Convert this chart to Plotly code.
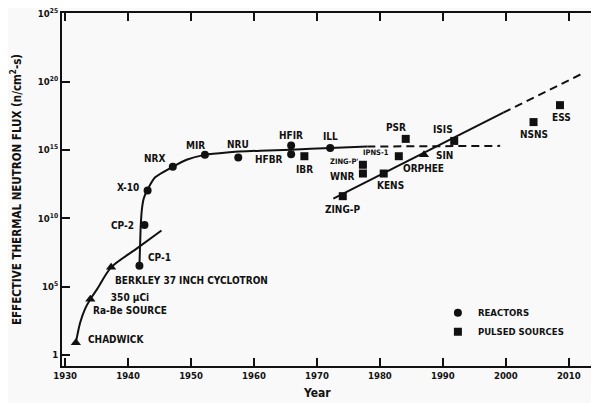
import math
import plotly.graph_objects as go

# ---------------- data ----------------
reactor_names = ["CP-1", "CP-2", "X-10", "NRX", "MIR", "NRU", "HFIR", "HFBR", "ILL"]
reactor_years = [1941.8, 1942.6, 1943.1, 1947.1, 1952.2, 1957.5, 1965.9, 1965.9, 1972.1]
reactor_flux = [3.4e6, 3.2e9, 1.1e12, 5.9e13, 4.4e14, 2.8e14, 2.1e15, 4.9e14, 1.4e15]

pulsed_names = ["IBR", "ZING-P'", "WNR", "IPNS-1", "PSR", "ZING-P", "KENS", "ISIS", "NSNS", "ESS"]
pulsed_years = [1968.0, 1977.3, 1977.3, 1983.0, 1984.1, 1974.1, 1980.6, 1991.8, 2004.4, 2008.6]
pulsed_flux = [3.5e14, 8.3e13, 1.9e13, 3.5e14, 6.5e15, 4.2e11, 1.9e13, 4.6e15, 1.1e17, 1.9e18]

other_names = ["CHADWICK", "350 \u03bcCi<br>Ra-Be SOURCE", "BERKLEY 37 INCH CYCLOTRON", "SIN"]
other_years = [1931.7, 1934.0, 1937.3, 1987.0]
other_flux = [8.0, 1.2e4, 2.6e6, 4.4e14]

# trend curves
reactor_curve_years = [1941.8, 1941.9, 1942.0, 1942.2, 1942.5, 1943.1, 1944.3, 1947.1, 1949.4,
                       1952.2, 1955.7, 1961.0, 1965.9, 1972.1, 1978.0]
reactor_curve_flux = [3.4e6, 1.0e8, 2.5e9, 5.0e10, 3.0e11, 1.3e12, 1.0e13, 5.9e13, 2.0e14,
                      4.4e14, 6.6e14, 8.9e14, 1.05e15, 1.4e15, 1.8e15]
reactor_proj_years = [1978.0, 1999.1]
reactor_proj_flux = [1.8e15, 2.0e15]

accel_curve_years = [1931.7, 1932.4, 1933.2, 1934.0, 1935.1, 1937.3, 1941.3, 1945.3]
accel_curve_flux = [8.0, 2.5e2, 2.6e3, 1.2e4, 6.9e4, 2.6e6, 5.8e7, 1.3e9]

pulsed_line_years = [1972.6, 1999.6]
pulsed_line_flux = [2.8e11, 5.4e17]
pulsed_proj_years = [1999.6, 2012.3]
pulsed_proj_flux = [5.4e17, 4.2e20]

x_ticks = [1930, 1940, 1950, 1960, 1970, 1980, 1990, 2000, 2010]
y_tickvals = [1, 1e5, 1e10, 1e15, 1e20, 1e25]
y_ticktext = ["1", "10<sup>5</sup>", "10<sup>10</sup>", "10<sup>15</sup>", "10<sup>20</sup>", "10<sup>25</sup>"]

# ---------------- styling ----------------
FONT = "DejaVu Sans Condensed, Liberation Sans Narrow, Arial Narrow, sans-serif"
INK = "#111111"

# label placement: (xanchor, xshift px, yshift px, font size)
label_style = {
    "CHADWICK": ("left", 10, 3, 10),
    "350 \u03bcCi<br>Ra-Be SOURCE": ("center", 40, -5, 10),
    "BERKLEY 37 INCH CYCLOTRON": ("left", 2, -13, 10),
    "CP-1": ("left", 7, 8, 10),
    "CP-2": ("right", -8, 0, 10),
    "X-10": ("right", -7, 3, 10),
    "NRX": ("right", -6, 8, 10),
    "MIR": ("center", -9, 9, 10),
    "NRU": ("center", 0, 13, 10),
    "HFIR": ("center", 0, 10, 10),
    "HFBR": ("right", -6, -5, 10),
    "IBR": ("center", 0, -13, 10),
    "ILL": ("center", 0, 11, 10),
    "ZING-P'": ("right", -3, 3, 7.5),
    "WNR": ("right", -7, -3, 10),
    "IPNS-1": ("right", -8, 4, 7.5),
    "PSR": ("center", -10, 11, 10),
    "ZING-P": ("center", 0, -13, 10),
    "KENS": ("center", 7, -12, 10),
    "SIN": ("left", 10, -1, 10),
    "ISIS": ("center", -11, 11, 10),
    "NSNS": ("center", 0, -12, 10),
    "ESS": ("center", 2, -12, 10),
}

fig = go.Figure()

# curves
fig.add_trace(go.Scatter(x=accel_curve_years, y=accel_curve_flux, mode="lines",
                         line=dict(color=INK, width=2, shape="spline", smoothing=0.8),
                         showlegend=False, hoverinfo="skip"))
fig.add_trace(go.Scatter(x=reactor_curve_years, y=reactor_curve_flux, mode="lines",
                         line=dict(color=INK, width=2, shape="spline", smoothing=0.5),
                         showlegend=False, hoverinfo="skip"))
fig.add_trace(go.Scatter(x=reactor_proj_years, y=reactor_proj_flux, mode="lines",
                         line=dict(color=INK, width=2, dash="8px,5px"),
                         showlegend=False, hoverinfo="skip"))
fig.add_trace(go.Scatter(x=pulsed_line_years, y=pulsed_line_flux, mode="lines",
                         line=dict(color=INK, width=2),
                         showlegend=False, hoverinfo="skip"))
fig.add_trace(go.Scatter(x=pulsed_proj_years, y=pulsed_proj_flux, mode="lines",
                         line=dict(color=INK, width=2, dash="8px,5px"),
                         showlegend=False, hoverinfo="skip"))

# markers
fig.add_trace(go.Scatter(x=reactor_years, y=reactor_flux, mode="markers", name="REACTORS",
                         text=reactor_names,
                         marker=dict(symbol="circle", size=8, color=INK)))
fig.add_trace(go.Scatter(x=pulsed_years, y=pulsed_flux, mode="markers", name="PULSED SOURCES",
                         text=pulsed_names,
                         marker=dict(symbol="square", size=8, color=INK)))
fig.add_trace(go.Scatter(x=other_years, y=other_flux, mode="markers", name="OTHER",
                         text=other_names, showlegend=False,
                         marker=dict(symbol="triangle-up", size=9, color=INK)))

# point labels (annotations on a log axis take log10 positions)
for names, xs, ys in [(reactor_names, reactor_years, reactor_flux),
                      (pulsed_names, pulsed_years, pulsed_flux),
                      (other_names, other_years, other_flux)]:
    for n, xv, yv in zip(names, xs, ys):
        xa, dx, dy, fs = label_style[n]
        fig.add_annotation(x=xv, y=math.log10(yv), xref="x", yref="y", text=n, showarrow=False,
                           xanchor=xa, yanchor="middle", xshift=dx, yshift=dy,
                           align="center",
                           font=dict(family=FONT, size=fs, color=INK, weight="bold"))

# ORPHEE label sits below the SIN marker
sin_i = other_names.index("SIN")
fig.add_annotation(x=other_years[sin_i], y=math.log10(other_flux[sin_i]), xref="x", yref="y",
                   text="ORPHEE", showarrow=False, xanchor="center", yanchor="middle",
                   xshift=0, yshift=-14,
                   font=dict(family=FONT, size=10, color=INK, weight="bold"))

# x axis title placed like the reference (slightly left of centre)
fig.add_annotation(x=0.475, y=-0.0765, xref="paper", yref="paper", text="Year",
                   showarrow=False, xanchor="center", yanchor="middle",
                   font=dict(family=FONT, size=12, color=INK, weight="bold"))

# the page body adds an 8px offset, so the figure is 8px smaller than the window
fig.update_layout(
    template="none",
    width=591, height=395,
    margin=dict(l=54, r=0, t=5, b=37),
    paper_bgcolor="#f9f9f9", plot_bgcolor="#f9f9f9",
    font=dict(family=FONT, color=INK, weight="bold"),
    legend=dict(x=0.700, y=0.192, xanchor="left", yanchor="top",
                bgcolor="rgba(0,0,0,0)", font=dict(family=FONT, size=9.5, color=INK, weight="bold"),
                tracegroupgap=0, itemwidth=30),
    hovermode=False,
)
fig.update_xaxes(range=[1929.5, 2014.8], tickvals=x_ticks, ticks="inside", ticklen=8,
                 tickwidth=1.5, tickcolor=INK, showline=True, linecolor=INK, linewidth=2,
                 mirror="ticks", showgrid=False, zeroline=False, automargin=False,
                 tickfont=dict(family=FONT, size=9.5, color=INK, weight="bold"))
fig.update_yaxes(type="log", range=[-0.8, 25.02], tickvals=y_tickvals, ticktext=y_ticktext,
                 ticks="inside", ticklen=8, tickwidth=1.5, tickcolor=INK,
                 showline=True, linecolor=INK, linewidth=2, showgrid=False, zeroline=False,
                 automargin=False, ticklabeloverflow="allow",
                 tickfont=dict(family=FONT, size=9.5, color=INK, weight="bold"),
                 title=dict(text="EFFECTIVE THERMAL NEUTRON FLUX (n/cm<sup>2</sup>-s)",
                            font=dict(family=FONT, size=11.5, color=INK, weight="bold"),
                            standoff=14))

fig.write_html("out.html")
